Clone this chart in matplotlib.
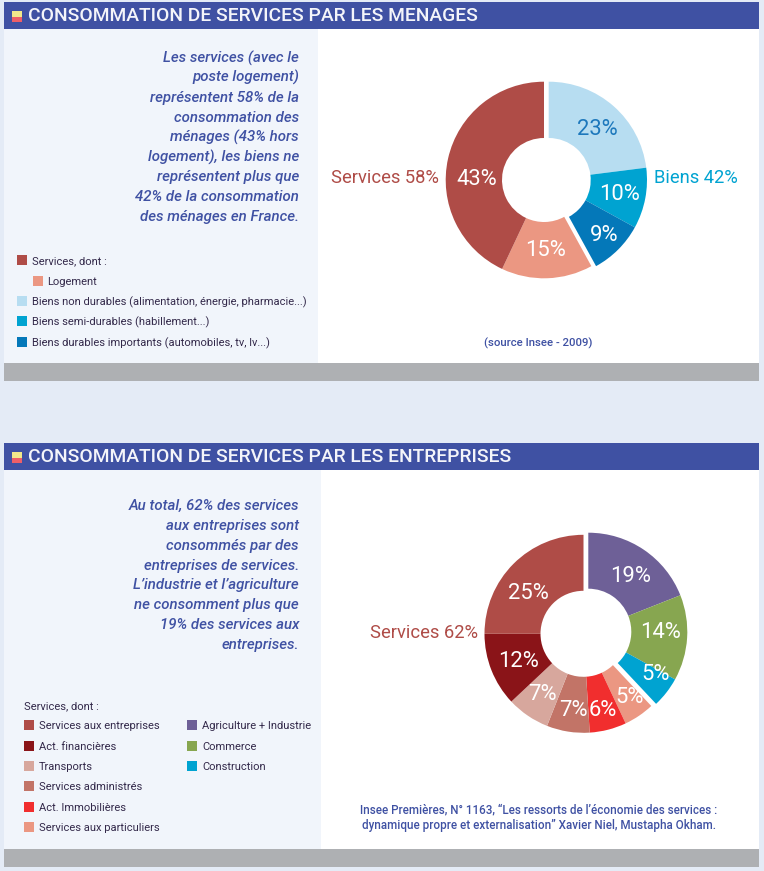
import matplotlib
matplotlib.use("Agg")
import matplotlib.pyplot as plt
from matplotlib.patches import Rectangle

W, H = 764, 871
BLUE = "#3F51A3"
INK = "#33294A"
SERVICE_RED = "#AF4C47"
CYAN = "#00A3D1"

# Panel 1: household consumption
goods1_labels = ["Biens non durables (alimentation, énergie, pharmacie...)",
                 "Biens semi-durables (habillement...)",
                 "Biens durables importants (automobiles, tv, lv...)"]
goods1_values = [23, 10, 9]
goods1_colors = ["#B7DDF1", "#00A3D1", "#0478B9"]
serv1_labels = ["Services, dont :", "Logement"]
serv1_values = [15, 43]
serv1_colors = ["#EB9782", "#AF4C47"]
text1 = ["Les services (avec le", "poste logement)", "représentent 58% de la",
         "consommation des", "ménages (43% hors", "logement), les biens ne",
         "représentent plus que", "42% de la consommation", "des ménages en France."]

# Panel 2: business consumption
other2_labels = ["Agriculture + Industrie", "Commerce", "Construction"]
other2_values = [19, 14, 5]
other2_colors = ["#6E6097", "#87A650", "#00A3D1"]
serv2_labels = ["Services aux entreprises", "Act. financières", "Transports",
                "Services administrés", "Act. Immobilières", "Services aux particuliers"]
serv2_values = [25, 12, 7, 7, 6, 5]
serv2_colors = ["#AF4C47", "#8A1418", "#D7A79D", "#C27467", "#F12E2E", "#EB9782"]
text2 = ["Au total, 62% des services", "aux entreprises sont", "consommés par des",
         "entreprises de services.", "L’industrie et l’agriculture", "ne consomment plus que",
         "19% des services aux", "entreprises."]

plt.rcParams["font.family"] = ["Roboto", "DejaVu Sans"]

fig = plt.figure(figsize=(W / 100, H / 100), dpi=100, facecolor="#E4EBF6")
ax = fig.add_axes([0, 0, 1, 1])


def rect(x0, y0, x1, y1, color, z=1):
    ax.add_patch(Rectangle((x0, H - y1), x1 - x0, y1 - y0, fc=color, ec="none", zorder=z))


def txt(x, y, s, **kw):
    kw.setdefault("va", "center")
    ax.text(x, H - y - 1, s, **kw)


def panel(top, bottom, split, title):
    rect(4, top, 759, bottom, "white")
    rect(4, top + 27, split, bottom - 18, "#F1F5FB", 2)
    rect(4, top, 759, top + 27, BLUE, 3)
    rect(4, bottom - 18, 759, bottom, "#AEB0B3", 3)
    rect(12, top + 9, 22, top + 15, "#F1E88B", 4)
    rect(12, top + 15, 22, top + 20, "#EE5F68", 4)
    txt(28, top + 13.5, title, color="#F4F5FA", fontsize=13.85, fontweight="medium", zorder=5)


def donut(values, colors, labels_color, nudges, cx, cy, radius, inner, start):
    _, _, autos = ax.pie(values, colors=colors, center=(cx, H - cy), radius=radius,
                         startangle=start, counterclock=False, frame=True,
                         wedgeprops={"width": radius - inner, "linewidth": 0, "zorder": 6},
                         autopct=lambda p: f"{p:.0f}%", pctdistance=0.72,
                         normalize=False,
                         textprops={"fontsize": 15.8, "color": "white", "zorder": 7})
    # autopct scales by the full circle; nudges pull each label to its drawn spot
    for a, c, (dx, dy) in zip(autos, labels_color, nudges):
        a.set_color(c)
        x, y = a.get_position()
        a.set_position((x + dx, y - dy))


def frac(values):
    return [v / 100 for v in values]


def swatch(x, yc, color):
    rect(x, yc - 5, x + 9.5, yc + 5, color, 5)


panel(2, 381, 318, "CONSOMMATION DE SERVICES PAR LES MENAGES")
panel(443, 867, 321, "CONSOMMATION DE SERVICES PAR LES ENTREPRISES")

for i, line in enumerate(text1):
    txt(299, 57 + i * 19.85, line, ha="right", color=BLUE, fontsize=10.8,
        fontstyle="italic", fontweight="medium", zorder=5)
for i, line in enumerate(text2):
    txt(299, 505 + i * 19.85, line, ha="right", color=BLUE, fontsize=10.8,
        fontstyle="italic", fontweight="medium", zorder=5)

# Donuts, clockwise from 12 o'clock
start1 = 90
donut(frac(goods1_values), goods1_colors, ["#1D78BC", "white", "white"],
      [(2, 3), (1, 1), (5, 5)], 548.7, 180, 98.3, 42, start1)
donut(frac(serv1_values), serv1_colors, ["white", "white"],
      [(-1, 0), (2, 15)], 544, 180, 98.3, 42, start1 - sum(goods1_values) * 3.6)
start2 = 90
donut(frac(other2_values), other2_colors, ["white"] * 3,
      [(2, 4), (1, -4), (11, -1)], 588.3, 631.7, 99, 43, start2)
donut(frac(serv2_values[::-1]), serv2_colors[::-1], ["white"] * 6,
      [(6, 5), (2, 8), (1, 6), (-1, 2), (1, 1), (-5, 10)], 583.5, 633.8, 99, 43,
      start2 - sum(other2_values) * 3.6)

txt(439, 177, "Services 58%", ha="right", color=SERVICE_RED, fontsize=13.2)
txt(654, 177, "Biens 42%", ha="left", color=CYAN, fontsize=13.2)
txt(478, 632, "Services 62%", ha="right", color=SERVICE_RED, fontsize=13.2)
txt(538, 342, "(source Insee - 2009)", ha="center", color=BLUE, fontsize=8.2, fontweight="medium")
txt(539, 809, "Insee Premières, N° 1163, “Les ressorts de l’économie des services :",
    ha="center", color=BLUE, fontsize=8.4, fontweight="medium")
txt(539, 824, "dynamique propre et externalisation” Xavier Niel, Mustapha Okham.",
    ha="center", color=BLUE, fontsize=8.4, fontweight="medium")

# Legends
LEG = dict(color=INK, fontsize=8.0, zorder=5)
swatch(17, 260, serv1_colors[1])
txt(32.5, 260, serv1_labels[0], **LEG)
swatch(33, 281, serv1_colors[0])
txt(47.5, 281, serv1_labels[1], **LEG)
for yc, lab, col in zip([301, 321.5, 342], goods1_labels, goods1_colors):
    swatch(17, yc, col)
    txt(32.5, yc, lab, **LEG)

txt(24, 705, "Services, dont :", **LEG)
for yc, lab, col in zip([725, 745.5, 766, 786, 807, 827], serv2_labels, serv2_colors):
    swatch(24, yc, col)
    txt(39, yc, lab, **LEG)
for yc, lab, col in zip([725, 745.5, 766], other2_labels, other2_colors):
    swatch(187, yc, col)
    txt(202, yc, lab, **LEG)

ax.set_xlim(0, W)
ax.set_ylim(0, H)
ax.set_aspect("auto")
ax.axis("off")
fig.savefig("out.png", dpi=100, facecolor=fig.get_facecolor())
